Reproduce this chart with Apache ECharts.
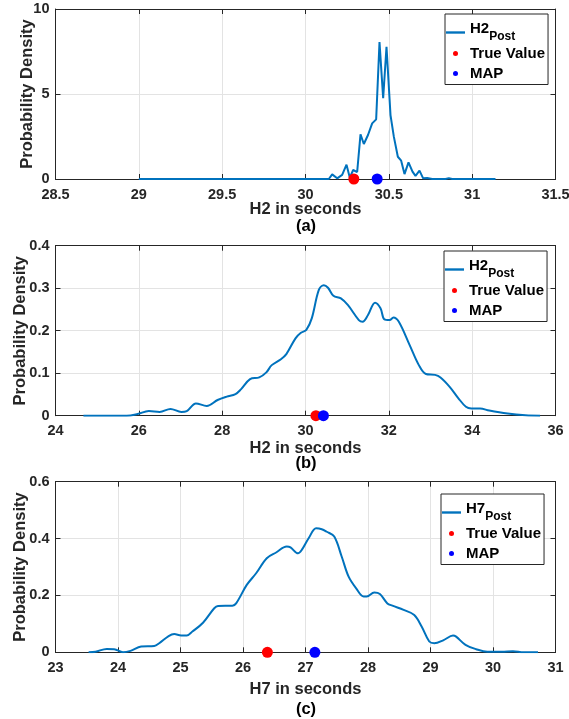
<!DOCTYPE html>
<html>
<head>
<meta charset="utf-8">
<script src="https://cdn.jsdelivr.net/npm/echarts@6/dist/echarts.min.js"></script>
<style>
html,body{margin:0;padding:0;background:#fff;}
#chart{width:569px;height:719px;}
</style>
</head>
<body>
<div id="chart"></div>
<script>
// ---- Panel (a): H2 posterior (narrow) ----
const h2aX = [29.0, 30.14, 30.16, 30.19, 30.22, 30.246, 30.266, 30.286, 30.31, 30.33, 30.35, 30.375, 30.40, 30.424, 30.444, 30.466, 30.486, 30.51, 30.53, 30.554, 30.574, 30.594, 30.618, 30.642, 30.66, 30.684, 30.706, 30.73, 30.76, 30.84, 30.86, 30.88, 31.14];
const h2aY = [0, 0, 0.27, 0.04, 0.24, 0.84, 0.08, 0.53, 0.41, 2.63, 2.06, 2.59, 3.27, 3.51, 8.05, 4.75, 7.78, 3.76, 2.49, 1.31, 1.08, 0.29, 0.98, 0.43, 0.18, 0.49, 0.04, 0.06, 0, 0, 0.05, 0, 0];
const trueA = 30.29, mapA = 30.43;

// ---- Panel (b): H2 posterior (wide) ----
const h2bX = [24.67, 25.71, 25.97, 26.24, 26.50, 26.76, 27.02, 27.15, 27.37, 27.63, 27.89, 28.11, 28.32, 28.45, 28.67, 28.89, 29.06, 29.19, 29.41, 29.54, 29.76, 29.89, 30.02, 30.15, 30.32, 30.44, 30.54, 30.67, 30.85, 31.02, 31.28, 31.37, 31.50, 31.67, 31.80, 31.89, 32.02, 32.11, 32.24, 32.50, 32.72, 32.89, 33.11, 33.24, 33.46, 33.67, 33.85, 33.98, 34.19, 34.41, 34.85, 35.28, 35.63];
const h2bY = [0, 0, 0.004, 0.011, 0.009, 0.016, 0.009, 0.011, 0.029, 0.023, 0.037, 0.045, 0.051, 0.062, 0.086, 0.090, 0.102, 0.119, 0.133, 0.145, 0.182, 0.195, 0.202, 0.229, 0.296, 0.307, 0.301, 0.282, 0.276, 0.260, 0.225, 0.221, 0.237, 0.266, 0.253, 0.227, 0.225, 0.231, 0.221, 0.166, 0.119, 0.098, 0.096, 0.090, 0.068, 0.041, 0.021, 0.017, 0.017, 0.012, 0.005, 0.001, 0];
const trueB = 30.25, mapB = 30.43;

// ---- Panel (c): H7 posterior ----
const h7X = [23.53, 23.64, 23.82, 23.94, 24.08, 24.20, 24.37, 24.58, 24.66, 24.81, 24.90, 25.01, 25.10, 25.19, 25.36, 25.54, 25.60, 25.83, 25.89, 26.06, 26.21, 26.38, 26.53, 26.70, 26.76, 26.88, 26.94, 27.05, 27.17, 27.26, 27.34, 27.46, 27.58, 27.69, 27.81, 27.93, 27.98, 28.10, 28.19, 28.31, 28.39, 28.57, 28.74, 28.86, 28.98, 29.06, 29.21, 29.36, 29.41, 29.56, 29.73, 29.91, 30.14, 30.32, 30.49, 30.72];
const h7Y = [0, 0.002, 0.012, 0.011, 0, 0.005, 0.020, 0.022, 0.032, 0.057, 0.064, 0.059, 0.059, 0.073, 0.104, 0.155, 0.163, 0.164, 0.172, 0.237, 0.278, 0.331, 0.351, 0.372, 0.369, 0.348, 0.360, 0.401, 0.436, 0.433, 0.424, 0.407, 0.336, 0.266, 0.225, 0.196, 0.196, 0.210, 0.205, 0.172, 0.164, 0.149, 0.131, 0.090, 0.038, 0.032, 0.043, 0.059, 0.055, 0.026, 0.011, 0.002, 0.002, 0.004, 0, 0];
const trueC = 26.39, mapC = 27.15;

// ---- Axes ----
const xRanges = [[28.5, 31.5, 0.5], [24, 36, 2], [23, 31, 1]];
const yRanges = [[0, 10, 5], [0, 0.4, 0.1], [0, 0.6, 0.2]];
const xNames = ['H2 in seconds', 'H2 in seconds', 'H7 in seconds'];
const yName = 'Probability Density';
const captions = ['(a)', '(b)', '(c)'];
const legendMain = [['H2', 'Post'], ['H2', 'Post'], ['H7', 'Post']];

const FONT = "'Liberation Sans', Arial, Helvetica, sans-serif";
const DARK = '#262626';
const BLUE = '#0072BD';

const gridTops = [9, 245.7, 481.7];
const gridH = [170, 170, 170.6];
const xNameGap = [22, 24, 29];
const yNameGap = [20, 27, 27];
const legendTops = [14, 251, 494];
const legendLefts = [445, 444, 441];
const captionY = [226.7, 463.5, 709];

const grids = [], xAxes = [], yAxes = [], series = [], legends = [], graphics = [];

const lineData = [
  h2aX.map((x, i) => [x, h2aY[i]]),
  h2bX.map((x, i) => [x, h2bY[i]]),
  h7X.map((x, i) => [x, h7Y[i]])
];
const trueVals = [trueA, trueB, trueC];
const mapVals = [mapA, mapB, mapC];
const smoothing = [false, 0.35, 0.35];

for (let i = 0; i < 3; i++) {
  grids.push({left: 55.5, right: 13.5, top: gridTops[i], height: gridH[i], show: false, containLabel: false, outerBoundsMode: 'none'});
  const [xmin, xmax, xint] = xRanges[i];
  const [ymin, ymax, yint] = yRanges[i];
  const axisLine = {show: true, onZero: false, lineStyle: {color: DARK, width: 1}};
  const tick = {show: true, inside: true, length: 5, lineStyle: {color: DARK, width: 1}};
  xAxes.push({
    gridIndex: i, type: 'value', min: xmin, max: xmax, interval: xint, position: 'bottom',
    name: xNames[i], nameLocation: 'middle', nameGap: xNameGap[i], nameMoveOverlap: false,
    nameTextStyle: {fontFamily: FONT, fontSize: 16.5, fontWeight: 'bold', color: DARK},
    axisLine: axisLine, axisTick: tick,
    axisLabel: {fontFamily: FONT, fontSize: 14.5, fontWeight: 'bold', color: DARK, margin: 8, showMinLabel: true, showMaxLabel: true, hideOverlap: false},
    splitLine: {show: true, lineStyle: {color: '#e3e3e3', width: 1}}
  });
  xAxes.push({
    gridIndex: i, type: 'value', min: xmin, max: xmax, interval: xint, position: 'top',
    axisLine: axisLine, axisTick: tick, axisLabel: {show: false}, splitLine: {show: false}
  });
  yAxes.push({
    gridIndex: i, type: 'value', min: ymin, max: ymax, interval: yint, position: 'left',
    name: yName, nameLocation: 'middle', nameGap: yNameGap[i], nameMoveOverlap: false,
    nameTextStyle: {fontFamily: FONT, fontSize: 16.5, fontWeight: 'bold', color: DARK},
    axisLine: axisLine, axisTick: tick,
    axisLabel: {fontFamily: FONT, fontSize: 14.5, fontWeight: 'bold', color: DARK, margin: 6, showMinLabel: true, showMaxLabel: true},
    splitLine: {show: true, lineStyle: {color: '#e3e3e3', width: 1}}
  });
  yAxes.push({
    gridIndex: i, type: 'value', min: ymin, max: ymax, interval: yint, position: 'right',
    axisLine: axisLine, axisTick: tick, axisLabel: {show: false}, splitLine: {show: false}
  });

  const lineName = 'post' + i;
  series.push({
    name: lineName, type: 'line', xAxisIndex: 2 * i, yAxisIndex: 2 * i,
    data: lineData[i], showSymbol: false, smooth: smoothing[i],
    lineStyle: {color: BLUE, width: 2}, itemStyle: {color: BLUE}, z: 3, clip: true
  });
  series.push({
    name: 'True Value', type: 'scatter', xAxisIndex: 2 * i, yAxisIndex: 2 * i,
    data: [[trueVals[i], 0]], symbolSize: 11, itemStyle: {color: '#ff0000', opacity: 1}, z: 5, clip: false
  });
  series.push({
    name: 'MAP', type: 'scatter', xAxisIndex: 2 * i, yAxisIndex: 2 * i,
    data: [[mapVals[i], 0]], symbolSize: 11, itemStyle: {color: '#0000ff', opacity: 1}, z: 5, clip: false
  });

  const lm = legendMain[i];
  legends.push({
    orient: 'vertical', left: legendLefts[i], top: legendTops[i],
    padding: [7, 3, 2, 1], itemGap: 2, itemWidth: 19, itemHeight: 5,
    backgroundColor: '#fff', borderColor: DARK, borderWidth: 1, borderRadius: 0,
    selectedMode: false,
    data: [
      {name: lineName, icon: 'path://M0,0L40,0L40,5L0,5Z'},
      {name: 'True Value', icon: 'circle', itemStyle: {opacity: 1}},
      {name: 'MAP', icon: 'circle', itemStyle: {opacity: 1}}
    ],
    formatter: function (name) {
      if (name === lineName) return '{m|' + lm[0] + '}{s|' + lm[1] + '}';
      return name;
    },
    textStyle: {
      fontFamily: FONT, fontSize: 15, fontWeight: 'bold', color: '#000', lineHeight: 18,
      rich: {
        m: {fontFamily: FONT, fontSize: 15, fontWeight: 'bold', color: '#000', padding: [0, 0, 8, 0]},
        s: {fontFamily: FONT, fontSize: 12, fontWeight: 'bold', color: '#000', padding: [8, 0, 0, 0]}
      }
    }
  });

  graphics.push({
    type: 'text', x: 306, y: captionY[i], z: 10,
    style: {text: captions[i], fill: '#000', font: 'bold 16.5px ' + FONT, align: 'center', verticalAlign: 'middle'}
  });
}

graphics.push({
  type: 'text', x: -5, y: 752, z: 1,
  style: {text: 'the PDF and the true value and the MAP E', fill: '#000', font: '34px "Liberation Serif", "Times New Roman", serif', align: 'left', verticalAlign: 'bottom'}
});

const chart = echarts.init(document.getElementById('chart'), null, {renderer: 'canvas'});
chart.setOption({
  backgroundColor: '#fff',
  animation: false,
  grid: grids,
  xAxis: xAxes,
  yAxis: yAxes,
  legend: legends,
  series: series,
  graphic: graphics
});
</script>
</body>
</html>
